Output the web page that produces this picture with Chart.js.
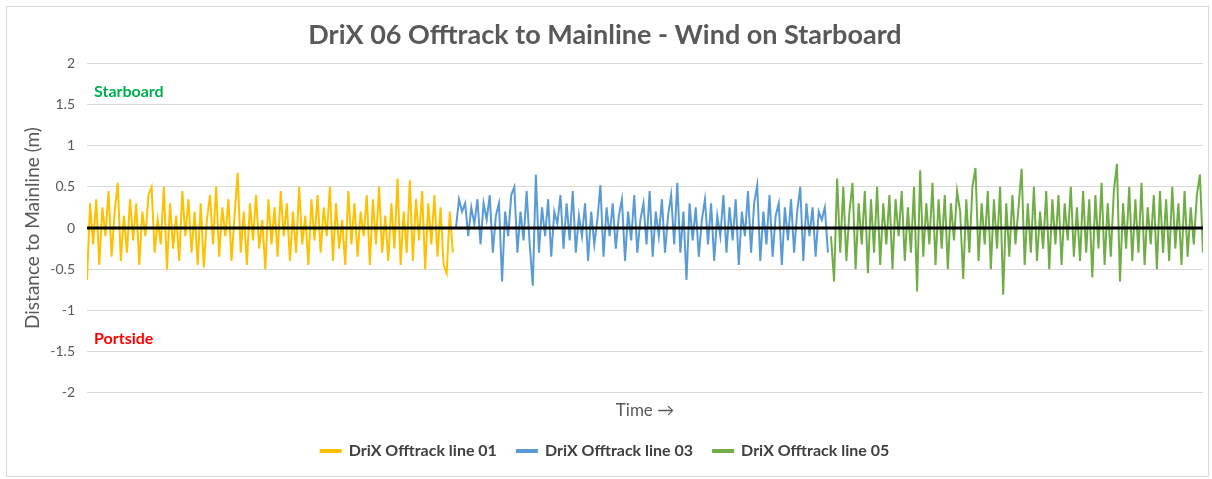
<!DOCTYPE html>
<html>
<head>
<meta charset="utf-8">
<script src="https://cdn.jsdelivr.net/npm/chart.js@4/dist/chart.umd.min.js"></script>
<style>
  html, body { margin: 0; padding: 0; background: #fff; }
  #wrap { position: absolute; left: 6px; top: 6px; width: 1201px; height: 469px; border: 1px solid #d9d9d9; }
</style>
</head>
<body>
<div id="wrap"><canvas id="chart"></canvas></div>
<script>
const line01 = [-0.63, 0.3, -0.2, 0.35, -0.45, 0.25, -0.1, 0.45, -0.35, 0.2,
  0.55, -0.4, 0.15, -0.3, 0.35, -0.15, 0.3, -0.45, 0.2, -0.1,
  0.4, 0.5, -0.3, 0.1, -0.2, 0.5, -0.5, 0.3, -0.25, 0.15,
  -0.4, 0.45, -0.1, 0.35, -0.3, 0.2, -0.45, 0.3, -0.48, 0.1,
  0.4, -0.2, 0.5, -0.35, 0.25, -0.1, 0.35, -0.4, 0.15, 0.67,
  -0.3, 0.2, -0.45, 0.3, -0.15, 0.4, -0.25, 0.1, -0.5, 0.35,
  -0.2, 0.25, -0.35, 0.45, -0.1, 0.3, -0.4, 0.2, -0.3, 0.5,
  -0.2, 0.15, -0.45, 0.35, -0.15, 0.4, -0.3, 0.25, -0.1, 0.5,
  -0.4, 0.3, -0.25, 0.1, -0.45, 0.45, -0.2, 0.3, -0.35, 0.2,
  -0.1, 0.4, -0.45, 0.35, -0.2, 0.5, -0.3, 0.15, -0.4, 0.3,
  -0.25, 0.6, -0.45, 0.2, -0.3, 0.58, -0.4, 0.35, -0.15, 0.45,
  -0.5, 0.3, -0.2, 0.4, -0.35, 0.25, -0.45, -0.55, 0.2, -0.3];

const line03 = [0.0, 0.35, 0.2, 0.3, -0.1, 0.25, 0.05, 0.35, -0.2, 0.3,
  0.1, 0.4, -0.3, 0.15, 0.3, -0.65, 0.2, -0.1, 0.4, 0.5,
  -0.3, 0.2, -0.15, 0.45, -0.2, -0.7, 0.65, -0.3, 0.25, -0.1,
  0.35, -0.35, 0.2, 0.05, 0.4, -0.25, 0.3, -0.15, 0.45, -0.3,
  0.15, -0.1, 0.3, -0.4, 0.2, -0.2, 0.1, 0.52, -0.35, 0.25,
  -0.1, 0.3, -0.25, 0.15, 0.35, -0.4, 0.2, -0.15, 0.4, -0.3,
  0.1, 0.3, -0.2, 0.45, -0.35, 0.2, -0.1, 0.35, -0.3, 0.15,
  0.4, -0.2, 0.55, -0.3, 0.2, -0.63, 0.3, -0.15, 0.25, -0.35,
  0.1, 0.35, -0.2, 0.3, -0.4, 0.15, -0.1, 0.4, -0.3, 0.25,
  -0.15, 0.35, -0.45, 0.2, -0.1, 0.45, -0.3, 0.3, 0.52, -0.4,
  0.2, -0.2, 0.4, -0.35, 0.15, 0.3, -0.45, 0.25, -0.15, 0.35,
  -0.3, 0.2, 0.5, -0.4, 0.3, -0.1, 0.25, -0.35, 0.2, 0.1,
  0.25, -0.3];

const line05 = [-0.1, -0.65, 0.6, -0.3, 0.5, -0.4, 0.2, 0.55, -0.5, 0.3,
  -0.2, 0.45, -0.55, 0.35, -0.3, 0.5, -0.45, 0.3, -0.2, 0.4,
  -0.5, 0.35, -0.1, 0.45, -0.4, 0.25, -0.3, 0.5, -0.77, 0.7,
  -0.35, 0.3, -0.2, 0.55, -0.45, 0.35, -0.25, 0.4, -0.5, 0.3,
  -0.15, 0.45, 0.2, -0.62, 0.35, -0.3, 0.5, 0.73, -0.4, 0.3,
  -0.2, 0.45, -0.5, 0.35, -0.25, 0.5, -0.81, 0.3, -0.35, 0.4,
  -0.2, 0.25, 0.72, -0.45, 0.3, -0.3, 0.5, -0.4, 0.2, -0.25,
  0.45, -0.5, 0.35, -0.2, 0.4, -0.45, 0.3, -0.15, 0.5, -0.35,
  0.25, -0.4, 0.45, -0.3, 0.35, -0.6, 0.4, -0.25, 0.55, -0.45,
  0.3, -0.35, 0.45, 0.78, -0.65, 0.3, -0.25, 0.5, -0.4, 0.35,
  -0.3, 0.55, -0.45, 0.25, -0.2, 0.4, -0.5, 0.45, -0.3, 0.35,
  -0.4, 0.5, -0.25, 0.3, -0.45, 0.45, -0.35, 0.25, -0.2, 0.4,
  0.65, -0.3];

const seriesNames = ["DriX Offtrack line 01", "DriX Offtrack line 03", "DriX Offtrack line 05"];
const seriesColors = ["#FFC000", "#5B9BD5", "#70AD47"];
const sideLabels = [
  { text: "Starboard", value: 1.66, color: "#00B050" },
  { text: "Portside", value: -1.35, color: "#FF0000" }
];

const FONT = "Lato, 'Open Sans', sans-serif";
const GREY = "#595959";

// each run follows the previous one along the time axis
const runs = [line01, line03, line05];
let offset = 0;
const runPoints = runs.map(vals => {
  const pts = vals.map((v, i) => ({ x: offset + i, y: v }));
  offset += vals.length;
  return pts;
});
const lastX = offset - 1;

const sideLabelPlugin = {
  id: "sideLabels",
  afterDatasetsDraw(chart) {
    const ctx = chart.ctx;
    const y = chart.scales.y;
    ctx.save();
    ctx.font = "bold 16px " + FONT;
    ctx.textBaseline = "middle";
    sideLabels.forEach(l => {
      ctx.fillStyle = l.color;
      ctx.fillText(l.text, chart.chartArea.left + 7, y.getPixelForValue(l.value));
    });
    ctx.restore();
  }
};

const datasets = [{
  label: "Mainline",
  data: [{ x: 0, y: 0 }, { x: lastX, y: 0 }],
  borderColor: "#000",
  borderWidth: 3,
  pointRadius: 0
}].concat(runPoints.map((pts, k) => ({
  label: seriesNames[k],
  data: pts,
  borderColor: seriesColors[k],
  backgroundColor: seriesColors[k],
  borderWidth: 2,
  pointRadius: 0,
  tension: 0
})));

new Chart(document.getElementById("chart"), {
  type: "line",
  data: { datasets },
  options: {
    responsive: true,
    maintainAspectRatio: false,
    animation: false,
    layout: { padding: { left: 0, right: 5, top: 0, bottom: 7 } },
    plugins: {
      title: {
        display: true,
        text: "DriX 06 Offtrack to Mainline - Wind on Starboard",
        color: GREY,
        font: { family: FONT, size: 27, weight: "bold" },
        padding: { top: 12, bottom: 12 }
      },
      legend: {
        position: "bottom",
        labels: {
          color: "#404040",
          font: { family: FONT, size: 16, weight: "bold" },
          boxWidth: 20,
          boxHeight: 2,
          padding: 20,
          filter: item => item.text !== "Mainline"
        }
      },
      tooltip: { enabled: false }
    },
    scales: {
      x: {
        type: "linear",
        min: 0,
        max: lastX,
        grid: { display: false },
        border: { display: false },
        ticks: { display: false },
        title: {
          display: true,
          text: "Time \u2192",
          color: GREY,
          font: { family: FONT, size: 17 },
          padding: { top: 0, bottom: 2 }
        }
      },
      y: {
        min: -2,
        max: 2,
        afterFit(scale) { scale.width = 80; },
        ticks: {
          stepSize: 0.5,
          color: GREY,
          padding: 12,
          font: { family: FONT, size: 14 },
          callback: v => String(v)
        },
        grid: { color: "#d9d9d9", drawTicks: false },
        border: { display: false },
        title: {
          display: true,
          text: "Distance to Mainline (m)",
          color: GREY,
          font: { family: FONT, size: 19 },
          padding: { top: 14, bottom: 0 }
        }
      }
    }
  },
  plugins: [sideLabelPlugin]
});
</script>
</body>
</html>
